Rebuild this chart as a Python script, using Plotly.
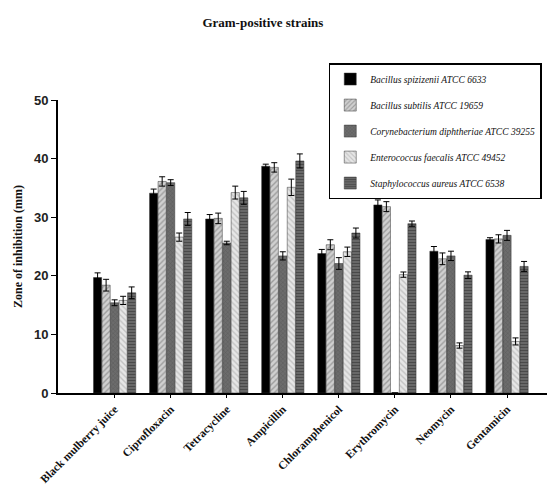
import plotly.graph_objects as go

categories = ["Black mulberry juice", "Ciprofloxacin", "Tetracycline", "Ampicillin",
              "Chloramphenicol", "Erythromycin", "Neomycin", "Gentamicin"]

series_names = ["Bacillus spizizenii ATCC 6633", "Bacillus subtilis ATCC 19659",
                "Corynebacterium diphtheriae ATCC 39255", "Enterococcus faecalis ATCC 49452",
                "Staphylococcus aureus ATCC 6538"]

b_spizizenii = [19.7, 34.1, 29.7, 38.7, 23.8, 32.1, 24.2, 26.2]
b_spizizenii_err = [0.8, 0.7, 0.75, 0.35, 0.7, 0.85, 0.8, 0.3]
b_subtilis = [18.4, 36.1, 29.8, 38.5, 25.3, 31.8, 22.9, 26.3]
b_subtilis_err = [1.0, 0.8, 0.9, 0.8, 0.85, 0.85, 1.0, 0.7]
c_diphtheriae = [15.4, 35.9, 25.6, 23.4, 22.1, 0, 23.4, 26.9]
c_diphtheriae_err = [0.5, 0.5, 0.3, 0.7, 1.0, 0, 0.8, 0.85]
e_faecalis = [15.8, 26.6, 34.2, 35.1, 24.1, 20.2, 8.1, 8.8]
e_faecalis_err = [0.7, 0.7, 1.1, 1.4, 0.8, 0.45, 0.45, 0.6]
s_aureus = [17.1, 29.7, 33.3, 39.6, 27.3, 28.9, 20.1, 21.6]
s_aureus_err = [1.0, 1.1, 1.1, 1.2, 0.85, 0.45, 0.57, 0.85]

y_ticks = [0, 10, 20, 30, 40, 50]

values = [b_spizizenii, b_subtilis, c_diphtheriae, e_faecalis, s_aureus]
errors = [b_spizizenii_err, b_subtilis_err, c_diphtheriae_err, e_faecalis_err, s_aureus_err]

styles = [
    dict(color="#000000", pattern=dict(shape="")),
    dict(color="#d0d0d0", pattern=dict(shape="/", fgcolor="#6a6a6a", size=4, solidity=0.35, fillmode="overlay")),
    dict(color="#6c6c6c", pattern=dict(shape="x", fgcolor="#4a4a4a", size=3, solidity=0.3, fillmode="overlay")),
    dict(color="#e6e6e6", pattern=dict(shape="\\", fgcolor="#a0a0a0", size=4, solidity=0.35, fillmode="overlay")),
    dict(color="#6a6a6a", pattern=dict(shape="-", fgcolor="#2a2a2a", size=3, solidity=0.4, fillmode="overlay")),
]

xs = list(range(len(categories)))

fig = go.Figure()
for name, vals, errs, st in zip(series_names, values, errors, styles):
    fig.add_trace(go.Bar(
        x=xs, y=vals, name=name, legendgroup=name,
        marker=dict(color=st["color"], pattern=st["pattern"],
                    line=dict(color="#333333", width=0.5)),
        error_y=dict(type="data", array=errs, color="#000000", thickness=1, width=3, visible=True),
    ))

fig.update_layout(
    width=547, height=485,
    paper_bgcolor="white", plot_bgcolor="white",
    margin=dict(l=50, r=0, t=92, b=100),
    barmode="group", bargap=0.24, bargroupgap=0.04,
    title=dict(text="<b>Gram-positive strains</b>", x=0.466, xanchor="center", y=0.971, yanchor="middle",
               font=dict(family="Liberation Serif", size=13, color="#111111")),
    legend=dict(x=0.547, y=1.126, xanchor="left", yanchor="top",
                bordercolor="#000000", borderwidth=1.5, bgcolor="white",
                font=dict(family="Liberation Serif", size=9.5, color="#111111", style="italic"),
                tracegroupgap=7, traceorder="grouped"),
    showlegend=True,
)

fig.update_xaxes(
    tickmode="array", tickvals=xs, ticktext=["<b>%s</b>" % c for c in categories],
    tickangle=-45, range=[-1.01, 7.82],
    showline=True, linecolor="#000000", linewidth=2, mirror=False,
    ticks="outside", ticklen=3, tickcolor="#000000",
    tickfont=dict(family="Liberation Serif", size=11.5, color="#111111"),
    showgrid=False, zeroline=False,
)
fig.update_yaxes(
    range=[0, 50], tickvals=y_ticks,
    ticktext=["<b>%d</b>" % t for t in y_ticks],
    showline=True, linecolor="#000000", linewidth=2, mirror=True,
    ticks="outside", ticklen=5, tickcolor="#000000",
    tickfont=dict(family="Liberation Sans", size=13, color="#222222"),
    title=dict(text="<b>Zone of inhibition (mm)</b>", standoff=9,
               font=dict(family="Liberation Serif", size=12, color="#111111")),
    showgrid=False, zeroline=False,
)

fig.write_html("out.html")
